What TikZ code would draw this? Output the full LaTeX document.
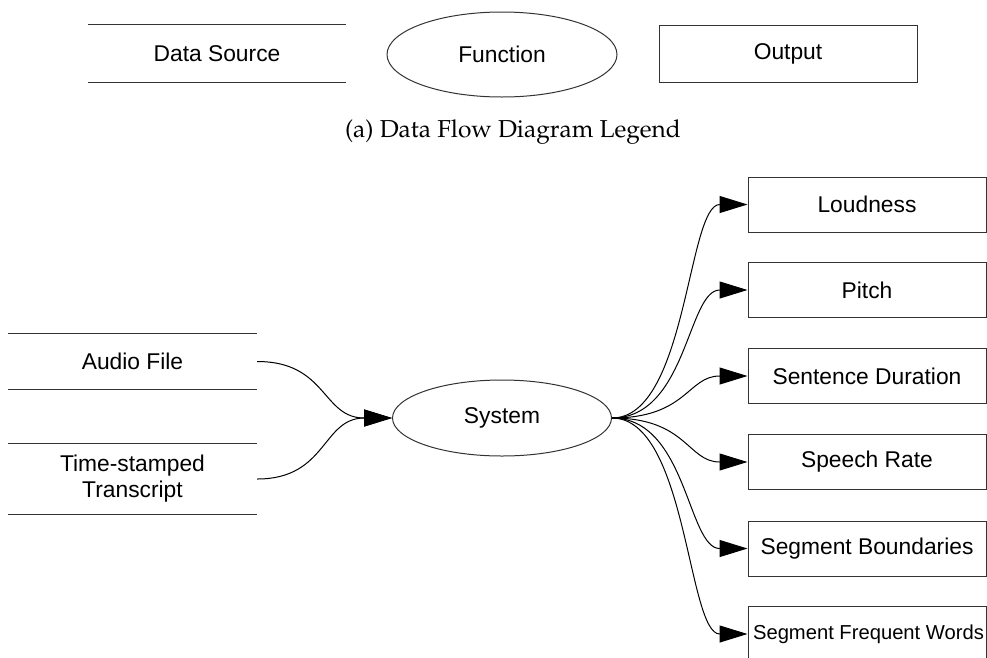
\documentclass[tikz,border=0pt]{standalone}
\usepackage{fontspec}
\newfontfamily\arialfont{Liberation Sans}
\usetikzlibrary{shapes.geometric,arrows.meta}
\definecolor{linec}{gray}{0.2}
\newcommand{\capfont}{\fontencoding{OT1}\fontfamily{ppl}\fontsize{24.5}{28}\selectfont}
\begin{document}
\begin{tikzpicture}[x=1pt,y=-1pt,
  lbl/.style={font=\arialfont\fontsize{22.8}{26}\selectfont, text=black},
  storebox/.style={lbl, minimum width=#1, minimum height=55, inner sep=0pt, align=center},
  rule/.style={draw=linec, line width=1pt},
  outbox/.style={lbl, draw=linec, line width=1pt, minimum width=238, minimum height=55, inner sep=0pt},
  func/.style={lbl, ellipse, draw=linec, line width=1pt, inner sep=0pt},
  flow/.style={draw=black, line width=1pt, -{Triangle[length=28pt,width=17pt]}},
]
\clip (0,0) rectangle (987,657);
% legend
\node[storebox=257, minimum height=57] (ds) at (217,53.5) {Data Source};
\draw[rule] (ds.north west) -- (ds.north east) (ds.south west) -- (ds.south east);
\node[func, minimum width=230, minimum height=85] (fn) at (502,54.5) {Function};
\node[outbox, minimum width=258, minimum height=57] (out) at (788,53.5) {Output};
\node[font=\capfont, anchor=base] (cap) at (513,137) {(a) Data Flow Diagram Legend};
% sources
\node[storebox=249] (audio) at (132.5,361.5) {Audio File};
\draw[rule] (audio.north west) -- (audio.north east) (audio.south west) -- (audio.south east);
\node[storebox=249, minimum height=70] (trans) at (132.5,479) {Time-stamped\\Transcript};
\draw[rule] (trans.north west) -- (trans.north east) (trans.south west) -- (trans.south east);
% function
\node[func, minimum width=219, minimum height=76] (sys) at (502,418) {System};
% outputs
\node[outbox] (loud) at (867,204.5) {Loudness};
\node[outbox] (pitch) at (867,290) {Pitch};
\node[outbox] (dur) at (867,376) {Sentence Duration};
\node[outbox] (rate) at (867,462) {Speech Rate};
\node[outbox] (bound) at (867,548.5) {Segment Boundaries};
\node[outbox, font=\arialfont\fontsize{20.2}{23}\selectfont] (freq) at (867,634) {\hspace*{3pt}Segment Frequent Words};
% flows
\draw[flow] (audio.east) .. controls +(70,0) and +(-70,0) .. (sys.west);
\draw[flow] (trans.east) .. controls +(70,0) and +(-70,0) .. (sys.west);
\foreach \t in {loud,pitch,dur,rate,bound,freq}
  \draw[flow] (sys.east) .. controls +(75,0) and +(-60,0) .. (\t.west);
\end{tikzpicture}
\end{document}
